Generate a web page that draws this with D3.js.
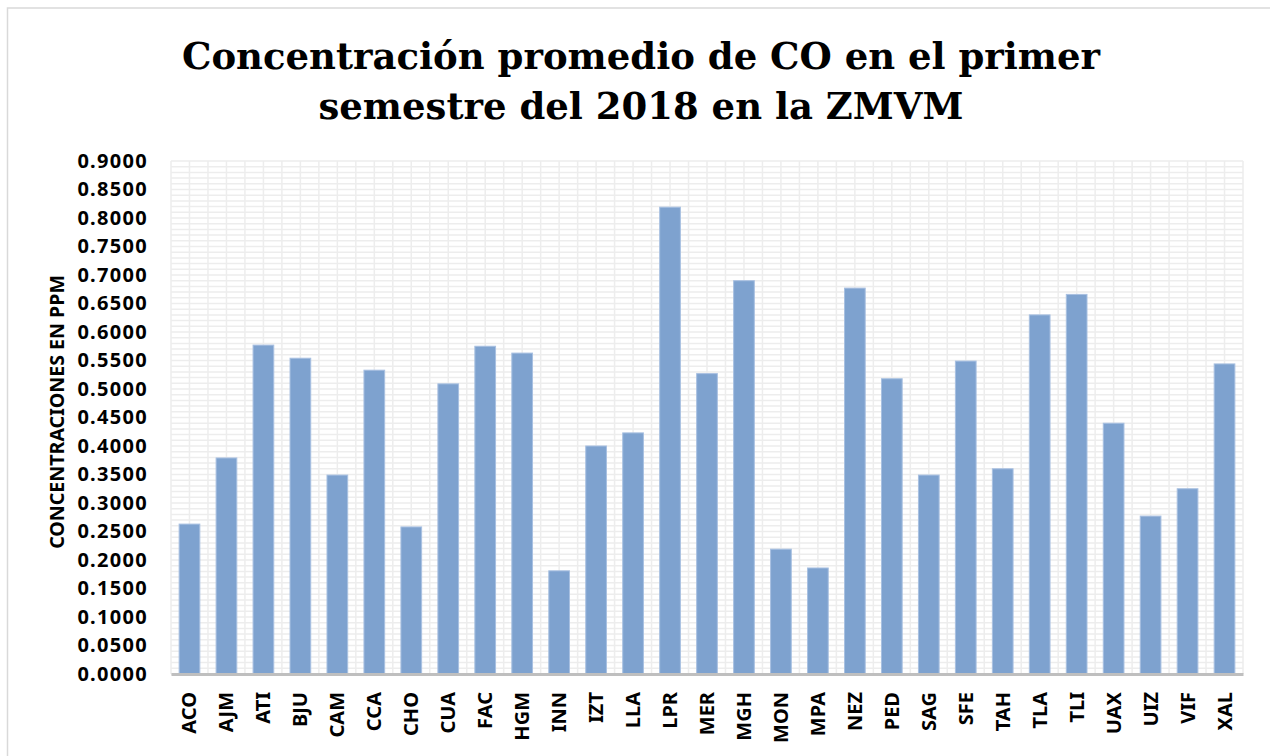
<!DOCTYPE html>
<html lang="es">
<head>
<meta charset="utf-8">
<title>Concentración promedio de CO</title>
<script src="https://d3js.org/d3.v7.min.js"></script>
<style>
  body { margin: 0; background: #fff; }
  .axis text { font-family: "Noto Sans", sans-serif; font-weight: bold; fill: #000; }
</style>
</head>
<body>
<script>
// estaciones y concentraciones (ppm)
const estaciones = ["ACO","AJM","ATI","BJU","CAM","CCA","CHO","CUA","FAC","HGM","INN","IZT","LLA","LPR","MER",
  "MGH","MON","MPA","NEZ","PED","SAG","SFE","TAH","TLA","TLI","UAX","UIZ","VIF","XAL"];
const valores = [0.263,0.379,0.577,0.554,0.349,0.533,0.258,0.509,0.575,0.563,0.181,0.400,0.423,0.819,0.527,
  0.690,0.219,0.186,0.677,0.518,0.349,0.549,0.360,0.630,0.666,0.440,0.277,0.325,0.544];
const yTicks = d3.range(0, 0.9001, 0.05);
const titulo = ["Concentración promedio de CO en el primer", "semestre del 2018 en la ZMVM"];
const yTitulo = "CONCENTRACIONES EN PPM";

const W = 1270, H = 756;
const margin = {top: 161, right: 27, bottom: 82, left: 171};
const width = W - margin.left - margin.right,
      height = H - margin.top - margin.bottom;

const svg = d3.select("body").append("svg")
    .attr("width", W).attr("height", H);

// borde del area del grafico
svg.append("rect")
    .attr("x", 7.5).attr("y", 8).attr("width", W).attr("height", H)
    .attr("fill", "none").attr("stroke", "#d9d9d9").attr("stroke-width", 1.5);

// titulo
svg.append("g").selectAll("text").data(titulo).join("text")
    .attr("x", 641).attr("y", (d, i) => 69 + i * 50)
    .attr("text-anchor", "middle")
    .attr("font-family", "DejaVu Serif, serif")
    .attr("font-weight", "bold")
    .attr("font-size", 37)
    .text(d => d);

const g = svg.append("g").attr("transform", `translate(${margin.left},${margin.top})`);

const x = d3.scaleBand().domain(estaciones).range([0, width]).paddingInner(0.44).paddingOuter(0.22);
const y = d3.scaleLinear().domain([0, 0.9]).range([height, 0]);

// rejilla menor y mayor
const gridH = d3.range(0, 0.9001, 0.01);
g.append("g").selectAll("line").data(gridH).join("line")
    .attr("x1", 0).attr("x2", width)
    .attr("y1", d => y(d)).attr("y2", d => y(d))
    .attr("stroke", "#ededed").attr("stroke-width", 1.5);
const step = width / estaciones.length;
g.append("g").selectAll("line").data(d3.range(0, estaciones.length * 2 + 1)).join("line")
    .attr("x1", d => d * step / 2).attr("x2", d => d * step / 2)
    .attr("y1", 0).attr("y2", height)
    .attr("stroke", "#ededed").attr("stroke-width", 1.5);

// barras
g.append("g").selectAll("rect").data(valores).join("rect")
    .attr("x", (d, i) => x(estaciones[i]))
    .attr("width", x.bandwidth())
    .attr("y", d => y(d))
    .attr("height", d => height - y(d))
    .attr("fill", "#7ea2cf")
    .attr("stroke", "#a8c0e1").attr("stroke-width", 1);

// eje y
const gy = g.append("g").attr("class", "axis")
    .call(d3.axisLeft(y).tickValues(yTicks).tickFormat(d3.format(".4f")).tickSize(0).tickPadding(23));
gy.select(".domain").remove();
gy.selectAll("text").attr("font-size", 20).attr("letter-spacing", 1.3);

// eje x
const gx = g.append("g").attr("class", "axis").attr("transform", `translate(0,${height})`)
    .call(d3.axisBottom(x).tickSize(0));
gx.select(".domain").attr("stroke", "#bfbfbf").attr("stroke-width", 3);
gx.selectAll("text")
    .attr("font-size", 20)
    .attr("transform", "rotate(-90)")
    .attr("text-anchor", "end")
    .attr("x", -18).attr("y", 0).attr("dy", "0.35em");

// titulo eje y
svg.append("text")
    .attr("transform", "translate(64,412) rotate(-90)")
    .attr("text-anchor", "middle")
    .attr("font-family", "Noto Sans, sans-serif")
    .attr("font-weight", "bold")
    .attr("font-size", 19.6)
    .text(yTitulo);
</script>
</body>
</html>
